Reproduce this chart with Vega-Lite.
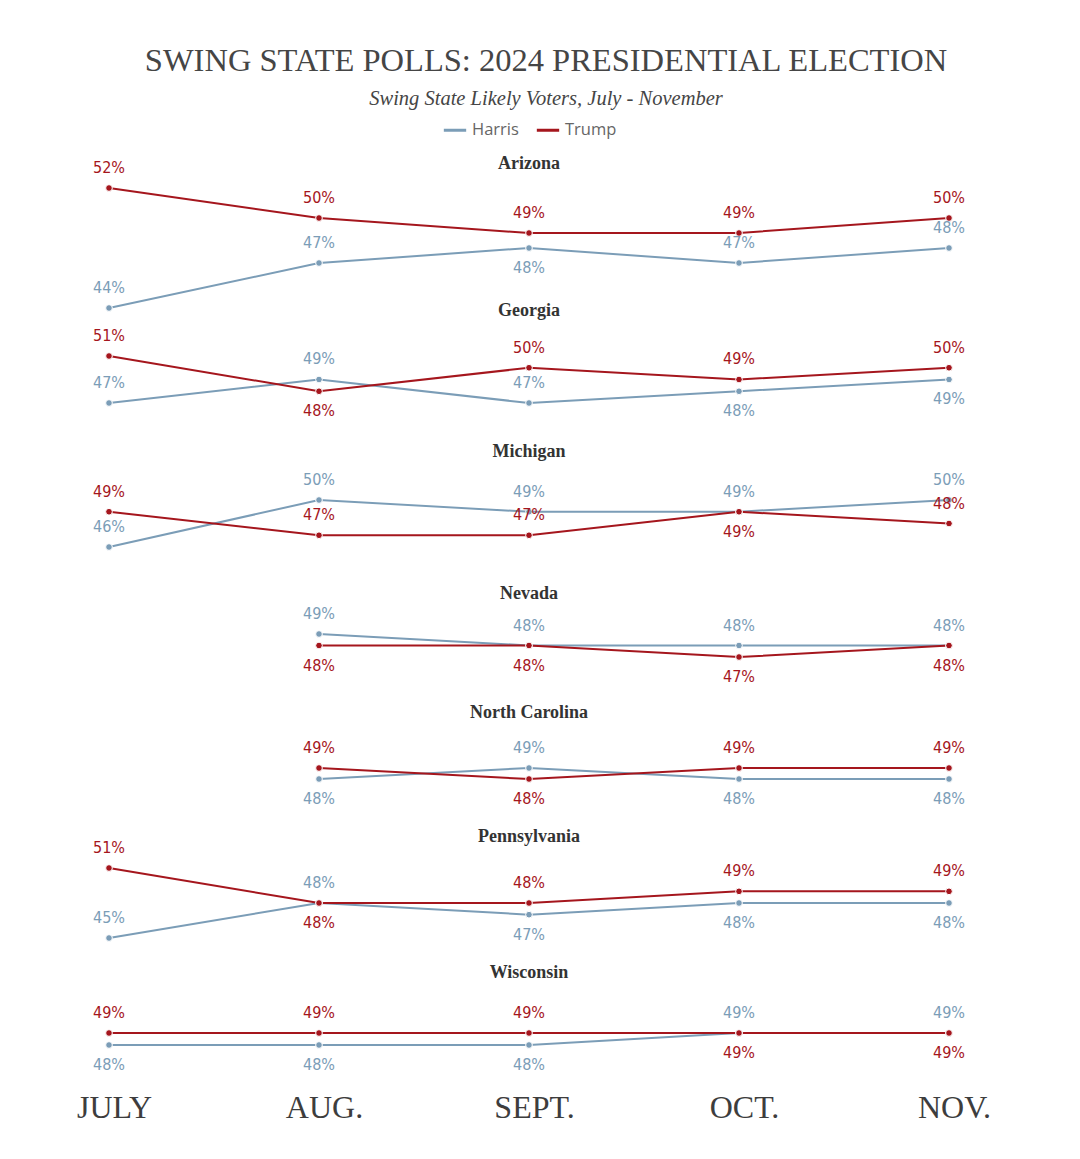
{
  "$schema": "https://vega.github.io/schema/vega-lite/v6.json",
  "background": "white",
  "padding": {"left": 76, "top": 45, "right": 20, "bottom": 20},
  "title": {
    "text": "SWING STATE POLLS: 2024 PRESIDENTIAL ELECTION",
    "subtitle": "Swing State Likely Voters, July - November",
    "font": "Liberation Serif",
    "fontSize": 32.5,
    "fontWeight": "normal",
    "color": "#454545",
    "subtitleFont": "Liberation Serif",
    "subtitleFontSize": 20.5,
    "subtitleFontStyle": "italic",
    "subtitleColor": "#454545",
    "subtitlePadding": 11,
    "anchor": "middle",
    "frame": "group",
    "offset": 8,
    "dx": 17
  },
  "datasets": {
    "polls": [
      {"state": "Arizona", "month": "JULY", "candidate": "Harris", "value": 44, "side": "above"},
      {"state": "Arizona", "month": "AUG.", "candidate": "Harris", "value": 47, "side": "above"},
      {"state": "Arizona", "month": "SEPT.", "candidate": "Harris", "value": 48, "side": "below"},
      {"state": "Arizona", "month": "OCT.", "candidate": "Harris", "value": 47, "side": "above"},
      {"state": "Arizona", "month": "NOV.", "candidate": "Harris", "value": 48, "side": "above"},
      {"state": "Georgia", "month": "JULY", "candidate": "Harris", "value": 47, "side": "above"},
      {"state": "Georgia", "month": "AUG.", "candidate": "Harris", "value": 49, "side": "above"},
      {"state": "Georgia", "month": "SEPT.", "candidate": "Harris", "value": 47, "side": "above"},
      {"state": "Georgia", "month": "OCT.", "candidate": "Harris", "value": 48, "side": "below"},
      {"state": "Georgia", "month": "NOV.", "candidate": "Harris", "value": 49, "side": "below"},
      {"state": "Michigan", "month": "JULY", "candidate": "Harris", "value": 46, "side": "above"},
      {"state": "Michigan", "month": "AUG.", "candidate": "Harris", "value": 50, "side": "above"},
      {"state": "Michigan", "month": "SEPT.", "candidate": "Harris", "value": 49, "side": "above"},
      {"state": "Michigan", "month": "OCT.", "candidate": "Harris", "value": 49, "side": "above"},
      {"state": "Michigan", "month": "NOV.", "candidate": "Harris", "value": 50, "side": "above"},
      {"state": "Nevada", "month": "AUG.", "candidate": "Harris", "value": 49, "side": "above"},
      {"state": "Nevada", "month": "SEPT.", "candidate": "Harris", "value": 48, "side": "above"},
      {"state": "Nevada", "month": "OCT.", "candidate": "Harris", "value": 48, "side": "above"},
      {"state": "Nevada", "month": "NOV.", "candidate": "Harris", "value": 48, "side": "above"},
      {"state": "North Carolina", "month": "AUG.", "candidate": "Harris", "value": 48, "side": "below"},
      {"state": "North Carolina", "month": "SEPT.", "candidate": "Harris", "value": 49, "side": "above"},
      {"state": "North Carolina", "month": "OCT.", "candidate": "Harris", "value": 48, "side": "below"},
      {"state": "North Carolina", "month": "NOV.", "candidate": "Harris", "value": 48, "side": "below"},
      {"state": "Pennsylvania", "month": "JULY", "candidate": "Harris", "value": 45, "side": "above"},
      {"state": "Pennsylvania", "month": "AUG.", "candidate": "Harris", "value": 48, "side": "above"},
      {"state": "Pennsylvania", "month": "SEPT.", "candidate": "Harris", "value": 47, "side": "below"},
      {"state": "Pennsylvania", "month": "OCT.", "candidate": "Harris", "value": 48, "side": "below"},
      {"state": "Pennsylvania", "month": "NOV.", "candidate": "Harris", "value": 48, "side": "below"},
      {"state": "Wisconsin", "month": "JULY", "candidate": "Harris", "value": 48, "side": "below"},
      {"state": "Wisconsin", "month": "AUG.", "candidate": "Harris", "value": 48, "side": "below"},
      {"state": "Wisconsin", "month": "SEPT.", "candidate": "Harris", "value": 48, "side": "below"},
      {"state": "Wisconsin", "month": "OCT.", "candidate": "Harris", "value": 49, "side": "above"},
      {"state": "Wisconsin", "month": "NOV.", "candidate": "Harris", "value": 49, "side": "above"},
      {"state": "Arizona", "month": "JULY", "candidate": "Trump", "value": 52, "side": "above"},
      {"state": "Arizona", "month": "AUG.", "candidate": "Trump", "value": 50, "side": "above"},
      {"state": "Arizona", "month": "SEPT.", "candidate": "Trump", "value": 49, "side": "above"},
      {"state": "Arizona", "month": "OCT.", "candidate": "Trump", "value": 49, "side": "above"},
      {"state": "Arizona", "month": "NOV.", "candidate": "Trump", "value": 50, "side": "above"},
      {"state": "Georgia", "month": "JULY", "candidate": "Trump", "value": 51, "side": "above"},
      {"state": "Georgia", "month": "AUG.", "candidate": "Trump", "value": 48, "side": "below"},
      {"state": "Georgia", "month": "SEPT.", "candidate": "Trump", "value": 50, "side": "above"},
      {"state": "Georgia", "month": "OCT.", "candidate": "Trump", "value": 49, "side": "above"},
      {"state": "Georgia", "month": "NOV.", "candidate": "Trump", "value": 50, "side": "above"},
      {"state": "Michigan", "month": "JULY", "candidate": "Trump", "value": 49, "side": "above"},
      {"state": "Michigan", "month": "AUG.", "candidate": "Trump", "value": 47, "side": "above"},
      {"state": "Michigan", "month": "SEPT.", "candidate": "Trump", "value": 47, "side": "above"},
      {"state": "Michigan", "month": "OCT.", "candidate": "Trump", "value": 49, "side": "below"},
      {"state": "Michigan", "month": "NOV.", "candidate": "Trump", "value": 48, "side": "above"},
      {"state": "Nevada", "month": "AUG.", "candidate": "Trump", "value": 48, "side": "below"},
      {"state": "Nevada", "month": "SEPT.", "candidate": "Trump", "value": 48, "side": "below"},
      {"state": "Nevada", "month": "OCT.", "candidate": "Trump", "value": 47, "side": "below"},
      {"state": "Nevada", "month": "NOV.", "candidate": "Trump", "value": 48, "side": "below"},
      {"state": "North Carolina", "month": "AUG.", "candidate": "Trump", "value": 49, "side": "above"},
      {"state": "North Carolina", "month": "SEPT.", "candidate": "Trump", "value": 48, "side": "below"},
      {"state": "North Carolina", "month": "OCT.", "candidate": "Trump", "value": 49, "side": "above"},
      {"state": "North Carolina", "month": "NOV.", "candidate": "Trump", "value": 49, "side": "above"},
      {"state": "Pennsylvania", "month": "JULY", "candidate": "Trump", "value": 51, "side": "above"},
      {"state": "Pennsylvania", "month": "AUG.", "candidate": "Trump", "value": 48, "side": "below"},
      {"state": "Pennsylvania", "month": "SEPT.", "candidate": "Trump", "value": 48, "side": "above"},
      {"state": "Pennsylvania", "month": "OCT.", "candidate": "Trump", "value": 49, "side": "above"},
      {"state": "Pennsylvania", "month": "NOV.", "candidate": "Trump", "value": 49, "side": "above"},
      {"state": "Wisconsin", "month": "JULY", "candidate": "Trump", "value": 49, "side": "above"},
      {"state": "Wisconsin", "month": "AUG.", "candidate": "Trump", "value": 49, "side": "above"},
      {"state": "Wisconsin", "month": "SEPT.", "candidate": "Trump", "value": 49, "side": "above"},
      {"state": "Wisconsin", "month": "OCT.", "candidate": "Trump", "value": 49, "side": "below"},
      {"state": "Wisconsin", "month": "NOV.", "candidate": "Trump", "value": 49, "side": "below"}
    ]
  },
  "spacing": 0,
  "bounds": "flush",
  "resolve": {"scale": {"color": "shared"}, "legend": {"color": "shared"}},
  "vconcat": [
    {
      "title": {"text": "Arizona", "font": "Liberation Serif", "fontSize": 18, "fontWeight": "bold", "color": "#333333", "offset": -33, "baseline": "middle", "frame": "group", "anchor": "middle"},
      "width": 840, "height": 147,
      "data": {"name": "polls"},
      "transform": [{"filter": "datum.state === 'Arizona'"}, {"calculate": "datum.value + '%'", "as": "label"}],
      "encoding": {
        "x": {"field": "month", "type": "ordinal", "scale": {"type": "point", "domain": ["JULY", "AUG.", "SEPT.", "OCT.", "NOV."], "padding": 0}, "axis": null},
        "y": {"field": "value", "type": "quantitative", "scale": {"domain": [44.8, 54.6], "nice": false, "zero": false}, "axis": null},
        "color": {"field": "candidate", "type": "nominal", "scale": {"domain": ["Harris", "Trump"], "range": ["#7B9DB7", "#A5161D"]}, "legend": {"title": null}}
      },
      "layer": [
        {"mark": {"type": "line", "strokeWidth": 2}},
        {"mark": {"type": "point", "filled": true, "size": 45, "opacity": 1, "stroke": "white", "strokeWidth": 1}},
        {"transform": [{"filter": "datum.side === 'above'"}], "mark": {"type": "text", "dy": -20, "font": "Liberation Sans Narrow, DejaVu Sans Condensed, sans-serif", "fontSize": 16}, "encoding": {"text": {"field": "label"}}},
        {"transform": [{"filter": "datum.side === 'below'"}], "mark": {"type": "text", "dy": 20, "font": "Liberation Sans Narrow, DejaVu Sans Condensed, sans-serif", "fontSize": 16}, "encoding": {"text": {"field": "label"}}}
      ]
    },
    {
      "title": {"text": "Georgia", "font": "Liberation Serif", "fontSize": 18, "fontWeight": "bold", "color": "#333333", "offset": -33, "baseline": "middle", "frame": "group", "anchor": "middle"},
      "width": 840, "height": 141,
      "data": {"name": "polls"},
      "transform": [{"filter": "datum.state === 'Georgia'"}, {"calculate": "datum.value + '%'", "as": "label"}],
      "encoding": {
        "x": {"field": "month", "type": "ordinal", "scale": {"type": "point", "domain": ["JULY", "AUG.", "SEPT.", "OCT.", "NOV."], "padding": 0}, "axis": null},
        "y": {"field": "value", "type": "quantitative", "scale": {"domain": [44.106, 56.106], "nice": false, "zero": false}, "axis": null},
        "color": {"field": "candidate", "type": "nominal", "scale": {"domain": ["Harris", "Trump"], "range": ["#7B9DB7", "#A5161D"]}, "legend": {"title": null}}
      },
      "layer": [
        {"mark": {"type": "line", "strokeWidth": 2}},
        {"mark": {"type": "point", "filled": true, "size": 45, "opacity": 1, "stroke": "white", "strokeWidth": 1}},
        {"transform": [{"filter": "datum.side === 'above'"}], "mark": {"type": "text", "dy": -20, "font": "Liberation Sans Narrow, DejaVu Sans Condensed, sans-serif", "fontSize": 16}, "encoding": {"text": {"field": "label"}}},
        {"transform": [{"filter": "datum.side === 'below'"}], "mark": {"type": "text", "dy": 20, "font": "Liberation Sans Narrow, DejaVu Sans Condensed, sans-serif", "fontSize": 16}, "encoding": {"text": {"field": "label"}}}
      ]
    },
    {
      "title": {"text": "Michigan", "font": "Liberation Serif", "fontSize": 18, "fontWeight": "bold", "color": "#333333", "offset": -33, "baseline": "middle", "frame": "group", "anchor": "middle"},
      "width": 840, "height": 142,
      "data": {"name": "polls"},
      "transform": [{"filter": "datum.state === 'Michigan'"}, {"calculate": "datum.value + '%'", "as": "label"}],
      "encoding": {
        "x": {"field": "month", "type": "ordinal", "scale": {"type": "point", "domain": ["JULY", "AUG.", "SEPT.", "OCT.", "NOV."], "padding": 0}, "axis": null},
        "y": {"field": "value", "type": "quantitative", "scale": {"domain": [43.277, 55.362], "nice": false, "zero": false}, "axis": null},
        "color": {"field": "candidate", "type": "nominal", "scale": {"domain": ["Harris", "Trump"], "range": ["#7B9DB7", "#A5161D"]}, "legend": {"title": null}}
      },
      "layer": [
        {"mark": {"type": "line", "strokeWidth": 2}},
        {"mark": {"type": "point", "filled": true, "size": 45, "opacity": 1, "stroke": "white", "strokeWidth": 1}},
        {"transform": [{"filter": "datum.side === 'above'"}], "mark": {"type": "text", "dy": -20, "font": "Liberation Sans Narrow, DejaVu Sans Condensed, sans-serif", "fontSize": 16}, "encoding": {"text": {"field": "label"}}},
        {"transform": [{"filter": "datum.side === 'below'"}], "mark": {"type": "text", "dy": 20, "font": "Liberation Sans Narrow, DejaVu Sans Condensed, sans-serif", "fontSize": 16}, "encoding": {"text": {"field": "label"}}}
      ]
    },
    {
      "title": {"text": "Nevada", "font": "Liberation Serif", "fontSize": 18, "fontWeight": "bold", "color": "#333333", "offset": -33, "baseline": "middle", "frame": "group", "anchor": "middle"},
      "width": 840, "height": 119,
      "data": {"name": "polls"},
      "transform": [{"filter": "datum.state === 'Nevada'"}, {"calculate": "datum.value + '%'", "as": "label"}],
      "encoding": {
        "x": {"field": "month", "type": "ordinal", "scale": {"type": "point", "domain": ["JULY", "AUG.", "SEPT.", "OCT.", "NOV."], "padding": 0}, "axis": null},
        "y": {"field": "value", "type": "quantitative", "scale": {"domain": [43.435, 53.783], "nice": false, "zero": false}, "axis": null},
        "color": {"field": "candidate", "type": "nominal", "scale": {"domain": ["Harris", "Trump"], "range": ["#7B9DB7", "#A5161D"]}, "legend": {"title": null}}
      },
      "layer": [
        {"mark": {"type": "line", "strokeWidth": 2}},
        {"mark": {"type": "point", "filled": true, "size": 45, "opacity": 1, "stroke": "white", "strokeWidth": 1}},
        {"transform": [{"filter": "datum.side === 'above'"}], "mark": {"type": "text", "dy": -20, "font": "Liberation Sans Narrow, DejaVu Sans Condensed, sans-serif", "fontSize": 16}, "encoding": {"text": {"field": "label"}}},
        {"transform": [{"filter": "datum.side === 'below'"}], "mark": {"type": "text", "dy": 20, "font": "Liberation Sans Narrow, DejaVu Sans Condensed, sans-serif", "fontSize": 16}, "encoding": {"text": {"field": "label"}}}
      ]
    },
    {
      "title": {"text": "North Carolina", "font": "Liberation Serif", "fontSize": 18, "fontWeight": "bold", "color": "#333333", "offset": -33, "baseline": "middle", "frame": "group", "anchor": "middle"},
      "width": 840, "height": 124,
      "data": {"name": "polls"},
      "transform": [{"filter": "datum.state === 'North Carolina'"}, {"calculate": "datum.value + '%'", "as": "label"}],
      "encoding": {
        "x": {"field": "month", "type": "ordinal", "scale": {"type": "point", "domain": ["JULY", "AUG.", "SEPT.", "OCT.", "NOV."], "padding": 0}, "axis": null},
        "y": {"field": "value", "type": "quantitative", "scale": {"domain": [44.091, 55.364], "nice": false, "zero": false}, "axis": null},
        "color": {"field": "candidate", "type": "nominal", "scale": {"domain": ["Harris", "Trump"], "range": ["#7B9DB7", "#A5161D"]}, "legend": {"title": null}}
      },
      "layer": [
        {"mark": {"type": "line", "strokeWidth": 2}},
        {"mark": {"type": "point", "filled": true, "size": 45, "opacity": 1, "stroke": "white", "strokeWidth": 1}},
        {"transform": [{"filter": "datum.side === 'above'"}], "mark": {"type": "text", "dy": -20, "font": "Liberation Sans Narrow, DejaVu Sans Condensed, sans-serif", "fontSize": 16}, "encoding": {"text": {"field": "label"}}},
        {"transform": [{"filter": "datum.side === 'below'"}], "mark": {"type": "text", "dy": 20, "font": "Liberation Sans Narrow, DejaVu Sans Condensed, sans-serif", "fontSize": 16}, "encoding": {"text": {"field": "label"}}}
      ]
    },
    {
      "title": {"text": "Pennsylvania", "font": "Liberation Serif", "fontSize": 18, "fontWeight": "bold", "color": "#333333", "offset": -33, "baseline": "middle", "frame": "group", "anchor": "middle"},
      "width": 840, "height": 136,
      "data": {"name": "polls"},
      "transform": [{"filter": "datum.state === 'Pennsylvania'"}, {"calculate": "datum.value + '%'", "as": "label"}],
      "encoding": {
        "x": {"field": "month", "type": "ordinal", "scale": {"type": "point", "domain": ["JULY", "AUG.", "SEPT.", "OCT.", "NOV."], "padding": 0}, "axis": null},
        "y": {"field": "value", "type": "quantitative", "scale": {"domain": [43.286, 54.943], "nice": false, "zero": false}, "axis": null},
        "color": {"field": "candidate", "type": "nominal", "scale": {"domain": ["Harris", "Trump"], "range": ["#7B9DB7", "#A5161D"]}, "legend": {"title": null}}
      },
      "layer": [
        {"mark": {"type": "line", "strokeWidth": 2}},
        {"mark": {"type": "point", "filled": true, "size": 45, "opacity": 1, "stroke": "white", "strokeWidth": 1}},
        {"transform": [{"filter": "datum.side === 'above'"}], "mark": {"type": "text", "dy": -20, "font": "Liberation Sans Narrow, DejaVu Sans Condensed, sans-serif", "fontSize": 16}, "encoding": {"text": {"field": "label"}}},
        {"transform": [{"filter": "datum.side === 'below'"}], "mark": {"type": "text", "dy": 20, "font": "Liberation Sans Narrow, DejaVu Sans Condensed, sans-serif", "fontSize": 16}, "encoding": {"text": {"field": "label"}}}
      ]
    },
    {
      "title": {"text": "Wisconsin", "font": "Liberation Serif", "fontSize": 18, "fontWeight": "bold", "color": "#333333", "offset": -33, "baseline": "middle", "frame": "group", "anchor": "middle"},
      "width": 840, "height": 118,
      "data": {"name": "polls"},
      "transform": [{"filter": "datum.state === 'Wisconsin'"}, {"calculate": "datum.value + '%'", "as": "label"}],
      "encoding": {
        "x": {"field": "month", "type": "ordinal", "scale": {"type": "point", "domain": ["JULY", "AUG.", "SEPT.", "OCT.", "NOV."], "padding": 0}, "axis": {"title": null, "labelFont": "Liberation Serif", "labelFontSize": 32, "labelColor": "#3d3d3d", "labelPadding": 16, "labelOffset": 5, "labelAngle": 0, "domain": false, "ticks": false, "grid": false}},
        "y": {"field": "value", "type": "quantitative", "scale": {"domain": [45.417, 55.25], "nice": false, "zero": false}, "axis": null},
        "color": {"field": "candidate", "type": "nominal", "scale": {"domain": ["Harris", "Trump"], "range": ["#7B9DB7", "#A5161D"]}, "legend": {"title": null}}
      },
      "layer": [
        {"mark": {"type": "line", "strokeWidth": 2}},
        {"mark": {"type": "point", "filled": true, "size": 45, "opacity": 1, "stroke": "white", "strokeWidth": 1}},
        {"transform": [{"filter": "datum.side === 'above'"}], "mark": {"type": "text", "dy": -20, "font": "Liberation Sans Narrow, DejaVu Sans Condensed, sans-serif", "fontSize": 16}, "encoding": {"text": {"field": "label"}}},
        {"transform": [{"filter": "datum.side === 'below'"}], "mark": {"type": "text", "dy": 20, "font": "Liberation Sans Narrow, DejaVu Sans Condensed, sans-serif", "fontSize": 16}, "encoding": {"text": {"field": "label"}}}
      ]
    }
  ],
  "config": {
    "view": {"stroke": null},
    "legend": {
      "orient": "top",
      "direction": "horizontal",
      "symbolType": "stroke",
      "symbolStrokeWidth": 3,
      "symbolSize": 500,
      "labelFont": "Open Sans",
      "labelFontSize": 16.5,
      "labelColor": "#666666",
      "columnPadding": 11,
      "offset": 10,
      "layout": {"top": {"anchor": "middle"}}
    }
  }
}
